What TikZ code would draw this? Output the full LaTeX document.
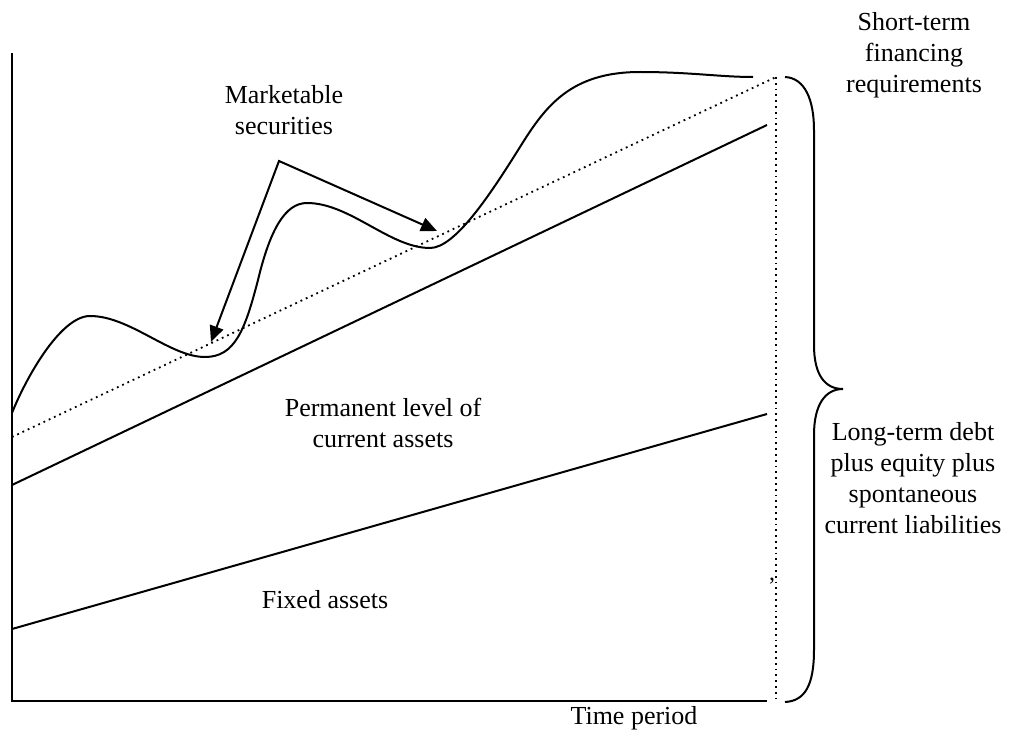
\documentclass[tikz,border=0pt]{standalone}
\usepackage{fontspec}
\setmainfont{Liberation Serif}
\usetikzlibrary{arrows.meta}

\tikzset{
  lbl/.style={font=\fontsize{13}{15.5}\selectfont, align=center, inner sep=0pt},
  ln/.style={line width=1pt},
  tip/.style={{Triangle[length=8pt,width=7pt]}-{Triangle[length=8pt,width=7pt]}},
}

\begin{document}
\begin{tikzpicture}[x=0.5pt,y=-0.5pt]
    \useasboundingbox (0,0) rectangle (1025,733);

    % axes
    \draw[ln] (12,53) -- (12,701) -- (767,701);

    % dotted end of the period
    \draw[dotted, line width=0.9pt] (776,77) -- (776,700);

    % fixed assets and permanent current assets
    \draw[ln] (12,629) -- (767,414);
    \draw[ln] (12,485) -- (767,125);

    % dotted long-term financing level
    \draw[dotted, line width=0.9pt] (12,437) -- (776,77);

    % total assets, wavy
    \draw[ln] (12,413) .. controls (25,380) and (60,316) .. (90,316)
        .. controls (130,316) and (170,357) .. (205,357)
        .. controls (235,357) and (245,330) .. (258,280)
        .. controls (270,230) and (285,203) .. (307,203)
        .. controls (350,203) and (390,248) .. (430,248)
        .. controls (455,248) and (490,195) .. (520,147)
        .. controls (545,107) and (570,72) .. (640,72)
        .. controls (690,72) and (720,77) .. (753,77);

    % arrows to the marketable securities
    \coordinate (apex) at (279,161);
    \coordinate (lowdip) at (211,342);
    \coordinate (highdip) at (437,231);
    \draw[ln, tip] (lowdip) -- (apex) -- (highdip);

    % brace
    \draw[ln] (785,77) .. controls (805,78) and (814,100) .. (814,130)
        -- (814,345) .. controls (814,375) and (825,389) .. (843,389)
        .. controls (825,389) and (814,405) .. (814,435)
        -- (814,650) .. controls (814,685) and (805,701) .. (785,702);

    % labels
    \node[lbl] (mkt) at (284,110) {Marketable\\securities};
    \node[lbl] (short) at (914,55) {Short-term\\financing\\requirements};
    \node[lbl] (perm) at (383,423) {Permanent level of\\current assets};
    \node[lbl] (fixed) at (325,600) {Fixed assets};
    \node[lbl] (long) at (913,478) {Long-term debt\\plus equity plus\\spontaneous\\current liabilities};
    \node[lbl] (time) at (634,718) {Time period};
    \node[lbl, font=\fontsize{12}{12}\selectfont] (mark) at (772,581) {,};
\end{tikzpicture}
\end{document}
